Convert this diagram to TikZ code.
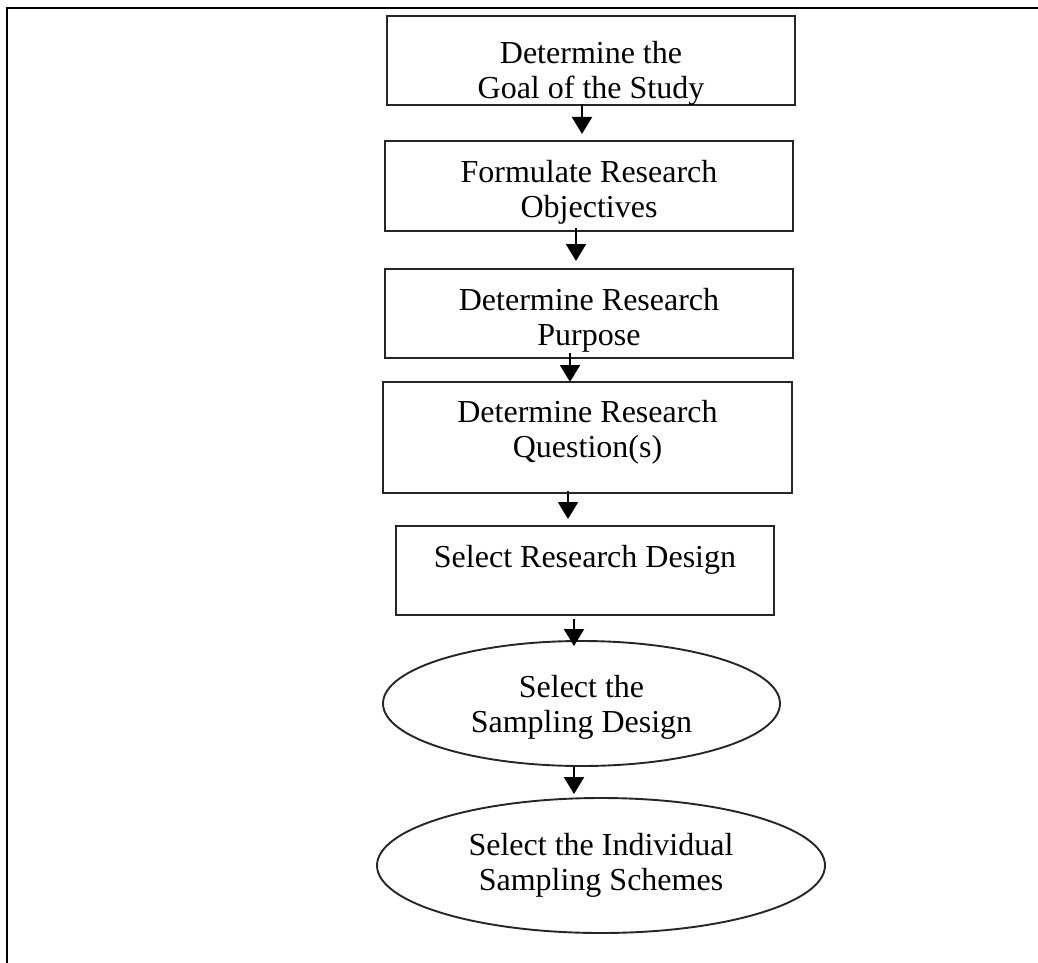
\documentclass[tikz,border=0pt]{standalone}
\usepackage{fontspec}
\setmainfont{Liberation Serif}
\usetikzlibrary{arrows.meta,shapes.geometric}
\definecolor{edge}{HTML}{262626}
\begin{document}
\begin{tikzpicture}[x=1pt,y=-1pt,
  stepbox/.style={draw=edge, line width=2pt, rectangle, inner sep=0pt},
  oval/.style={draw=edge, line width=1.9pt, ellipse, inner sep=0pt},
  txt/.style={align=center, inner sep=0pt, font=\fontsize{32}{35}\selectfont},
  arr/.style={line width=2pt, -{Triangle[width=20pt,length=17pt]}}
]
\useasboundingbox (0,0) rectangle (1038,963);

% outer frame (open at right and bottom)
\draw[line width=2.4pt] (7,970) -- (7,8) -- (1045,8);

% process steps
\node[stepbox, minimum width=408pt, minimum height=89pt] (b1) at (591,60.5) {};
\node[stepbox, minimum width=408pt, minimum height=90pt] (b2) at (589,186) {};
\node[stepbox, minimum width=408pt, minimum height=89pt] (b3) at (589,313.5) {};
\node[stepbox, minimum width=409pt, minimum height=111pt] (b4) at (587.5,437.5) {};
\node[stepbox, minimum width=378pt, minimum height=89pt] (b5) at (585,570.5) {};
\node[oval, minimum width=397pt, minimum height=125pt] (e1) at (581.5,703.5) {};
\node[oval, minimum width=448pt, minimum height=135pt] (e2) at (601,865.5) {};

% labels
\node[txt] (t1) at ([yshift=-12.5pt]b1.center) {Determine the\\Goal of the Study};
\node[txt] (t2) at ([yshift=-6pt]b2.center) {Formulate Research\\Objectives};
\node[txt] (t3) at ([yshift=-7pt]b3.center) {Determine Research\\Purpose};
\node[txt] (t4) at ([yshift=5pt]b4.center) {Determine Research\\Question(s)};
\node[txt] (t5) at ([yshift=11pt]b5.center) {Select Research Design};
\node[txt] (t6) at ([yshift=-3.5pt]e1.center) {Select the\\Sampling Design};
\node[txt] (t7) at (e2.center) {Select the Individual\\Sampling Schemes};

% connectors
\draw[arr] ([xshift=-9pt,yshift=2pt]b1.south) -- ([xshift=-7pt,yshift=6pt]b2.north);
\draw[arr] ([xshift=-13pt,yshift=4pt]b2.south) -- ([xshift=-13pt,yshift=7pt]b3.north);
\draw[arr] ([xshift=-19pt,yshift=6pt]b3.south) -- ([xshift=-17.5pt,yshift=-1pt]b4.north);
\draw[arr] ([xshift=-19.5pt,yshift=3pt]b4.south) -- ([xshift=-17pt,yshift=6pt]b5.north);
\draw[arr] ([xshift=-11pt,yshift=-3pt]b5.south) -- ([xshift=-7.5pt,yshift=-6pt]e1.north);
\draw[arr] ([xshift=-7.5pt]e1.south) -- ([xshift=-27pt,yshift=3pt]e2.north);
\end{tikzpicture}
\end{document}
